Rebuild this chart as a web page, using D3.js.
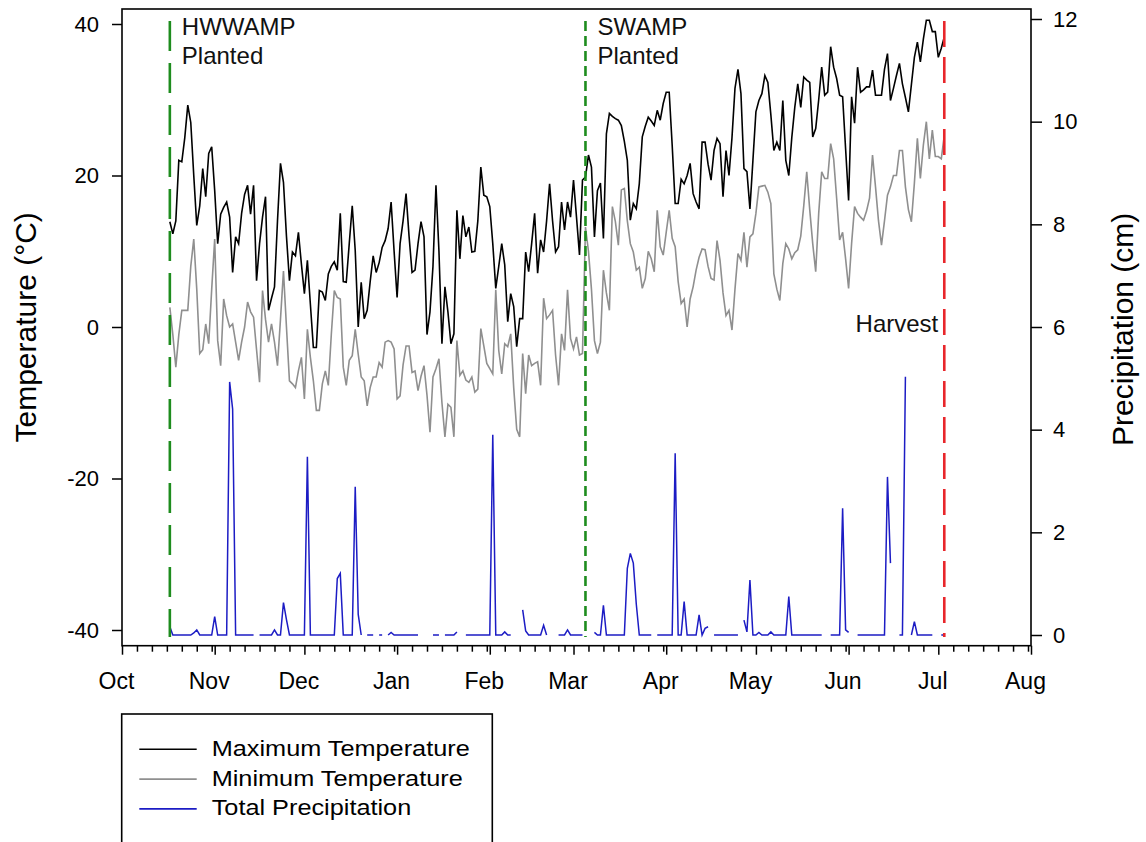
<!DOCTYPE html>
<html>
<head>
<meta charset="utf-8">
<script src="https://cdn.jsdelivr.net/npm/d3@7"></script>
<style>
  html, body { margin: 0; padding: 0; background: #fff; }
  svg { display: block; font-family: "Liberation Sans", Arial, sans-serif; }
</style>
</head>
<body>
<svg id="chart" width="1146" height="842"></svg>
<script>
// daily series, first value on Oct 17
var startDate = new Date(2014, 9, 17);

var maxTemp = [13.9,12.3,14,22,21.8,25,29.3,27,20,13.4,
  16,20.9,17.2,22.9,23.8,18,11,14.9,15.8,16.5,
  14.5,7.2,11.9,11,15,17.5,18.7,14.9,18.7,6.1,
  11,14.5,17.2,2.2,3.8,5.3,14,21.6,19.1,12,
  6.1,9.9,9.4,12.5,8.3,4.4,8.8,3,-2.7,-2.7,
  4.8,4.6,3.5,7,8,8.6,7.5,15,6,5.9,
  11,16,10.1,0,5.9,1.1,2.2,6,9.4,7.2,
  8.5,10.5,11.4,13,16.5,10,3.9,11,14,17.6,
  12,7.2,7.5,11,13.9,11.9,-1,2,8,18.7,
  10,-2.2,5.3,2,-2.2,-0.9,15.4,9,14.7,11.9,
  13.2,9.9,10,14,21.1,17.4,17.2,15.9,11,5.1,
  8,11,8.2,0.7,4.4,2.7,-2.6,1.1,1.1,9.9,
  7.3,11,15,7.1,11.5,9.9,14,18.9,14,9.9,
  10.6,16.5,12.8,16.5,14.5,19.4,14.5,9.5,19.4,19.8,
  22.7,21.1,11.9,18,19,11.7,25.5,28.2,27.8,27.5,
  27.3,26.6,24.5,22,14.1,16.3,15.6,18.9,25.1,26.5,
  27.7,27.2,26.6,28.6,27.3,29.5,31,31,24,16.3,
  16.3,19.5,18.9,20,21.6,17.6,16.5,15.6,24.4,24.4,
  21.5,19.4,23.3,24.9,24.2,17.2,23.3,20,25,31.5,
  34,30.8,20.9,20.5,15.6,22,28.4,29.9,30.8,33.2,
  32.3,28,23.3,24.4,23.3,29.9,22,20,25,29,
  32.1,29,33,32.6,32.3,25.1,26.2,30,34.3,30.6,
  31,37,34.3,32.8,30.6,30.4,23.5,16.7,30.4,26.9,
  34.3,31,31.3,31.7,31.7,33.9,30.6,30.6,30.6,34,
  36.1,29.9,31.5,33.2,34.8,32.1,30.3,28.4,32,35.6,
  37.6,35,38,40.5,40.5,39,39,35.6,36.8,38.3];

var minTemp = [2.6,-1,-5.3,-1,2.2,2.2,2.2,8,11.6,5,
  -3.5,-3,0.4,-2.2,5,11.6,-1.8,-5.1,3.7,1.5,
  0,0.4,-2,-4.4,-2,0,3.3,2,1.3,-3,
  -7.3,4.8,1,-2,0.4,-2,-5.1,1,7.4,0,
  -7.1,-7.5,-8,-5.8,-4,-9.5,-0.3,-4,-7.1,-11,
  -11,-7.5,-5.8,-7.7,-1,4.8,3.9,3.7,-5.3,-7.7,
  -4.4,-3.8,-0.3,-3.6,-6.6,-7.1,-10.4,-8,-6.6,-6.6,
  -4.7,-5.3,-2,-1.8,-2,-2.9,-9.5,-9.1,-5,-2.5,
  -2.5,-6,-5.8,-8.4,-6.5,-5.1,-9,-13.9,-6.6,-5.5,
  -4.2,-10,-14.5,-10.2,-10.6,-14.5,-1.8,-6.4,-5.8,-7,
  -7.3,-6.6,-8.6,-8.2,-0.2,-2.5,-4.8,-5.5,-6.2,4.9,
  -3.1,-6.2,-2.2,-2.6,-0.9,-8,-13.5,-14.5,-3.5,-8.8,
  -3.7,-5.1,-4.8,-4.6,-7.7,3.8,1.1,1.6,2.2,-3.7,
  -7.7,-0.9,-3.1,4.9,-1.5,-2.9,-1.3,-3.7,-3.5,13.2,
  10,5,-1.8,-3.5,-2,7.5,4.5,2.2,15.9,13.9,
  10.8,18.1,18.3,14,11,9.9,7.5,7.9,5.1,6.4,
  10,9,7.3,15.4,10.6,9.5,12.5,15.4,11.7,10.6,
  6,3.1,3.7,0,3.7,5.3,7.5,9.2,10.3,10.2,
  8,6.4,6.2,11.4,8.8,4.5,1.5,2.2,-0.4,5,
  9.7,8.8,12.5,7.9,11.9,12.3,15,18.5,18.6,18.7,
  17.8,16.3,7,5,3.5,8.4,11,10.3,9,9.8,
  10.2,12,16,20.5,15.5,11,7.3,15,20.5,19.6,
  19.6,24.2,22.2,17,11.5,12.5,9,5.1,11,15.9,
  15,14.5,14.1,15.3,17,22.7,18.5,14,10.8,14,
  17.4,18.5,20,20,23.3,23.3,18.5,15.5,13.9,19,
  24.9,19.6,24,27.1,22.2,26,22.5,22.5,22.2,25.3];

// null = missing day (gap in the line)
var precip = [0.16,0,0,0,0,0,0,0,0.04,0.1,
  0,0,0,0,0,0.36,0,0,0,0,
  4.93,4.4,0,0,0,0,0,0,0,null,
  0,0,0,0,0,0.1,0,0,0.63,0.3,
  0,0,0,0,0,0,3.47,0,0,0,
  0,0,0,0,0,0,1.1,1.2,0,0,
  0,0,2.89,0.4,0,null,0,0,0,null,
  0,0,null,0,0.05,0,0,0,0,0,
  0,0,0,0,null,null,null,null,0,0,
  0,null,0,0,0,0,0.06,null,null,0,
  0,0,0,0,0,0,0,0,3.9,0,
  0,0,0.06,0,0,null,null,null,0.49,0.08,
  0,0,0,0,0,0.19,0,null,null,null,
  0,0,0,0.1,0,0,0,0,0,null,
  null,null,0.05,0,0,0.58,0,0,0,0,
  0,0,0,1.3,1.59,1.4,0.6,0,0,0,
  0,0,null,0,0,0,0,0,0,3.54,
  0,0,0.65,0,0,0,0,0.39,0,0.13,
  0.16,null,0,0,0,0,0,0,0,0,
  0,null,0.29,0.06,1.07,0,0,0.05,0,0,
  0,0.06,0,0,0,0,0,0.75,0,0,
  0,0,0,0,0,0,0,0,0,null,
  null,0,0,0,0,2.47,0.1,0.05,null,null,
  0,0,0,0,0,0,0,0,0,0,
  3.08,1.4,null,null,0,0,5.03,null,0,0.26,
  0,0,0,0,0,0,null,null,0,0];

var tempTicks = [-40, -20, 0, 20, 40];
var precipTicks = [0, 2, 4, 6, 8, 10, 12];

var eventDates = [new Date(2014, 9, 17), new Date(2015, 2, 5), new Date(2015, 6, 3)];
var eventLabels = [["HWWAMP", "Planted"], ["SWAMP", "Planted"], ["Harvest"]];
var eventColors = ["#1e8c1e", "#1e8c1e", "#e8262b"];
var eventDash = ["30,12", "10,5", "26,10"];

var seriesNames = ["Maximum Temperature", "Minimum Temperature", "Total Precipitation"];
var seriesColors = ["#000000", "#8f8f8f", "#1c1cc4"];

var days = maxTemp.map(function(v, i) { return d3.timeDay.offset(startDate, i); });

var svg = d3.select("#chart");

// plot box
var box = {left: 122, top: 9, right: 1031, bottom: 645.7};

var x = d3.scaleTime()
  .domain([new Date(2014, 9, 1), new Date(2015, 7, 1)])
  .range([box.left, box.right]);
var yT = d3.scaleLinear().domain([-40, 40]).range([630, 24]);
var yP = d3.scaleLinear().domain([0, 12]).range([635, 19]);

// left axis
var gl = svg.append("g")
  .attr("transform", "translate(" + box.left + ",0)")
  .call(d3.axisLeft(yT).tickValues(tempTicks).tickSize(10).tickPadding(13).tickFormat(function(d) { return String(d); }));
gl.select(".domain").remove();

// right axis
var gr = svg.append("g")
  .attr("transform", "translate(" + box.right + ",0)")
  .call(d3.axisRight(yP).tickValues(precipTicks).tickSize(11).tickPadding(11));
gr.select(".domain").remove();

// bottom axis: month ticks + minor ticks
var months = d3.timeMonth.range(new Date(2014, 9, 1), new Date(2015, 7, 2));
var minor = [];
months.forEach(function(m) {
  [6, 11, 16, 21, 26, 31].forEach(function(dd) {
    var t = new Date(m.getFullYear(), m.getMonth(), dd);
    if (t.getMonth() == m.getMonth() && t < new Date(2015, 7, 1)) minor.push(t);
  });
});

var gb = svg.append("g")
  .attr("transform", "translate(0," + box.bottom + ")")
  .call(d3.axisBottom(x).tickValues(months).tickSize(9).tickFormat(d3.timeFormat("%b")));
gb.select(".domain").remove();
gb.selectAll("text").attr("y", 43.5).attr("dy", 0).attr("x", -6);

var gm = svg.append("g")
  .attr("transform", "translate(0," + box.bottom + ")")
  .call(d3.axisBottom(x).tickValues(minor).tickSize(6).tickFormat(""));
gm.select(".domain").remove();

svg.selectAll(".tick line").attr("stroke", "#000").attr("stroke-width", 1.5);
svg.selectAll(".tick text").attr("font-size", 22).attr("fill", "#000")
  .attr("font-family", "Liberation Sans, Arial, sans-serif");
gb.selectAll("text").attr("font-size", 23);

// series lines
var lineT = function(arr) {
  return d3.line()
    .x(function(d, i) { return x(days[i]); })
    .y(function(d) { return yT(d); })(arr);
};

svg.append("path").attr("d", lineT(minTemp))
  .attr("fill", "none").attr("stroke", seriesColors[1]).attr("stroke-width", 1.6);
svg.append("path").attr("d", lineT(maxTemp))
  .attr("fill", "none").attr("stroke", seriesColors[0]).attr("stroke-width", 1.6);

var lineP = d3.line()
  .defined(function(d) { return d != null; })
  .x(function(d, i) { return x(days[i]); })
  .y(function(d) { return yP(d); });
svg.append("path").attr("d", lineP(precip))
  .attr("fill", "none").attr("stroke", seriesColors[2]).attr("stroke-width", 1.5);

// event markers
eventDates.forEach(function(dt, k) {
  svg.append("line")
    .attr("x1", x(dt)).attr("x2", x(dt))
    .attr("y1", yP(12) + 2).attr("y2", yP(0) + 2)
    .attr("stroke", eventColors[k]).attr("stroke-width", 2.6)
    .attr("stroke-dasharray", eventDash[k]);
});

eventLabels.forEach(function(lines, k) {
  var harvest = (k == 2);
  var t = svg.append("text")
    .attr("font-size", 24)
    .attr("fill", "#111")
    .attr("text-anchor", harvest ? "end" : "start");
  lines.forEach(function(s, j) {
    t.append("tspan")
      .attr("x", harvest ? x(eventDates[k]) - 6 : x(eventDates[k]) + 12)
      .attr("y", harvest ? 332 : 35 + j * 28.5)
      .text(s);
  });
});

// frame
svg.append("rect")
  .attr("x", box.left).attr("y", box.top)
  .attr("width", box.right - box.left).attr("height", box.bottom - box.top)
  .attr("fill", "none").attr("stroke", "#000").attr("stroke-width", 1.6);

// axis titles
svg.append("text")
  .attr("transform", "translate(35.5," + ((box.top + box.bottom) / 2) + ") rotate(-90)")
  .attr("text-anchor", "middle").attr("font-size", 30).attr("fill", "#000")
  .text("Temperature (°C)");
svg.append("text")
  .attr("transform", "translate(1133," + ((box.top + box.bottom) / 2 + 2) + ") rotate(-90)")
  .attr("text-anchor", "middle").attr("font-size", 30).attr("fill", "#000")
  .text("Precipitation (cm)");

// legend
var lg = svg.append("g");
lg.append("rect")
  .attr("x", 121.7).attr("y", 714).attr("width", 370.6).attr("height", 160)
  .attr("fill", "none").attr("stroke", "#000").attr("stroke-width", 1.6);
seriesNames.forEach(function(name, k) {
  var yy = 749.3 + k * 29.8;
  lg.append("line")
    .attr("x1", 139.3).attr("x2", 196.7).attr("y1", yy).attr("y2", yy)
    .attr("stroke", seriesColors[k]).attr("stroke-width", 1.6);
  lg.append("text")
    .attr("transform", "translate(211.7," + (yy + 6.5) + ") scale(1.15,1)")
    .attr("font-size", 22).attr("fill", "#000")
    .text(name);
});
</script>
</body>
</html>
